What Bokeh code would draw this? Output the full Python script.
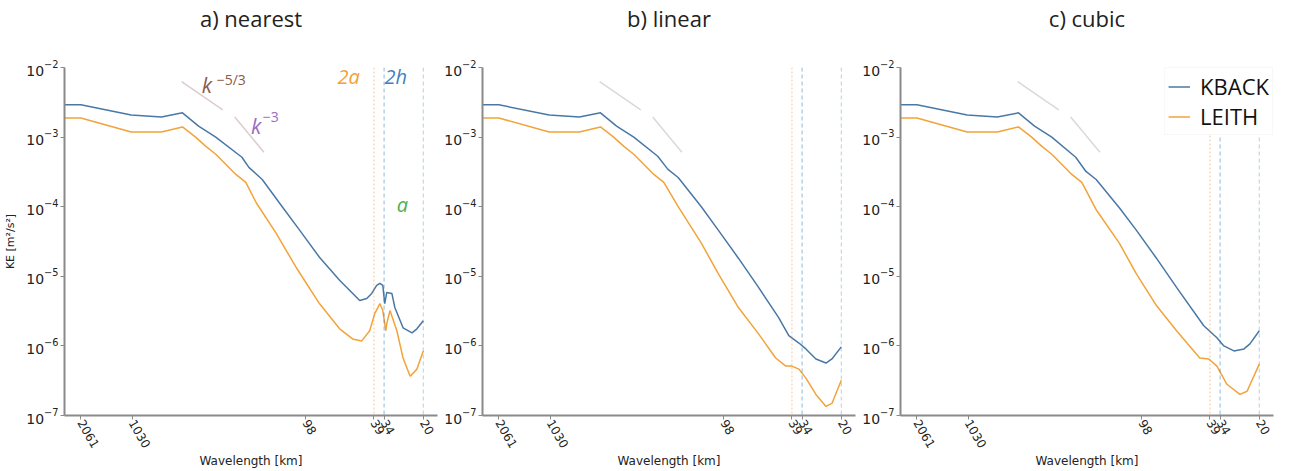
import numpy as np
from bokeh.plotting import figure
from bokeh.models import Range1d, FixedTicker, NumeralTickFormatter, Span, Label, Legend, LegendItem, Title
from bokeh.layouts import row
from bokeh.embed import file_html
from bokeh.resources import INLINE

# ---------------- data (wavelength in km, KE in m^2/s^2) ----------------
tick_wl = [2061, 1030, 98, 39, 34, 20]
y_ticks = [1e-7, 1e-6, 1e-5, 1e-4, 1e-3, 1e-2]
marker_wl = [39, 34, 20]          # 2a, 2h, a

# a) nearest
wl_a_kback = [2580, 2061, 1043, 693, 521, 419, 332, 233, 212, 177, 135, 107, 81.6, 62.1, 47.3, 43.0,
              40.2, 37.6, 36.0, 34.6, 33.7, 32.8, 30.6, 29.4, 26.3, 23.3, 21.8, 20.0]
ke_a_kback = [2.91e-3, 2.91e-3, 2.08e-3, 1.95e-3, 2.23e-3, 1.44e-3, 1.0e-3, 5.13e-4, 3.67e-4, 2.46e-4,
              1.0e-4, 4.64e-5, 1.88e-5, 8.75e-6, 4.49e-6, 4.80e-6, 5.67e-6, 7.41e-6, 7.92e-6, 7.41e-6,
              4.06e-6, 5.87e-6, 5.67e-6, 3.56e-6, 1.82e-6, 1.54e-6, 1.76e-6, 2.30e-6]
wl_a_leith = [2580, 2061, 1043, 693, 521, 436, 381, 332, 253, 221, 192, 147, 112, 81.6, 62.1, 52.1,
              46.0, 41.3, 38.6, 36.0, 34.6, 33.2, 32.8, 31.4, 28.6, 26.3, 23.9, 21.8, 20.0]
ke_a_leith = [1.88e-3, 1.88e-3, 1.18e-3, 1.18e-3, 1.40e-3, 1.0e-3, 7.41e-4, 5.67e-4, 2.91e-4, 2.23e-4,
              1.14e-4, 4.20e-5, 1.35e-5, 4.06e-6, 1.76e-6, 1.26e-6, 1.18e-6, 1.65e-6, 2.91e-6, 4.06e-6,
              3.22e-6, 1.65e-6, 2.08e-6, 3.22e-6, 1.65e-6, 6.70e-7, 3.67e-7, 4.64e-7, 8.47e-7]

# b) linear
wl_b_kback = [2580, 2061, 1043, 693, 521, 419, 332, 240, 209, 182, 133, 106, 80.5, 61.3, 46.7, 40.7,
              35.5, 32.3, 28.2, 24.6, 22.7, 20.0]
ke_b_kback = [2.91e-3, 2.91e-3, 2.08e-3, 1.95e-3, 2.23e-3, 1.44e-3, 1.0e-3, 5.31e-4, 3.44e-4, 2.63e-4,
              1.0e-4, 4.64e-5, 1.82e-5, 6.93e-6, 2.55e-6, 1.40e-6, 1.10e-6, 9.05e-7, 6.49e-7, 5.67e-7,
              6.49e-7, 9.68e-7]
wl_b_leith = [2580, 2061, 1043, 693, 521, 436, 381, 332, 253, 221, 182, 133, 106, 80.5, 61.3, 48.6,
              42.4, 39.1, 35.5, 32.3, 28.2, 24.6, 22.7, 20.0]
ke_b_leith = [1.88e-3, 1.88e-3, 1.18e-3, 1.18e-3, 1.40e-3, 1.0e-3, 7.41e-4, 5.67e-4, 2.91e-4, 2.23e-4,
              1.0e-4, 3.0e-5, 1.10e-5, 3.56e-6, 1.49e-6, 6.70e-7, 5.13e-7, 5.13e-7, 4.64e-7, 3.44e-7,
              2.01e-7, 1.35e-7, 1.49e-7, 3.21e-7]

# c) cubic
wl_c_kback = [2580, 2061, 1043, 693, 521, 419, 332, 240, 209, 182, 133, 106, 80.5, 61.3, 42.4, 35.5,
              32.3, 28.2, 24.6, 22.7, 20.0]
ke_c_kback = [2.91e-3, 2.91e-3, 2.08e-3, 1.95e-3, 2.23e-3, 1.44e-3, 1.0e-3, 5.13e-4, 3.21e-4, 2.46e-4,
              9.68e-5, 4.64e-5, 1.82e-5, 6.93e-6, 1.95e-6, 1.31e-6, 1.0e-6, 8.47e-7, 9.05e-7, 1.07e-6,
              1.65e-6]
wl_c_leith = [2580, 2061, 1043, 693, 521, 436, 381, 332, 253, 221, 182, 133, 106, 80.5, 61.3, 44.8,
              39.6, 35.5, 31.0, 26.0, 23.6, 20.0]
ke_c_leith = [1.88e-3, 1.88e-3, 1.18e-3, 1.18e-3, 1.40e-3, 1.0e-3, 7.41e-4, 5.67e-4, 2.91e-4, 2.23e-4,
              9.05e-5, 3.0e-5, 1.10e-5, 3.80e-6, 1.65e-6, 6.70e-7, 6.49e-7, 5.13e-7, 2.81e-7, 2.01e-7,
              2.23e-7, 5.48e-7]

# reference slopes (end points)
slope53_wl = [527, 302]
slope53_ke = [6.26e-3, 2.46e-3]
slope3_wl = [257, 173]
slope3_ke = [1.95e-3, 6.07e-4]

# ---------------- styling ----------------
C_KBACK = "#4a78a6"
C_LEITH = "#f2a33a"
AX = "#8a8a8a"
H = 471


def make_panel(title, wl_k, ke_k, wl_l, ke_l, width, mbl, mbr, ylabel=None, slope_color="#d9d9d9"):
    p = figure(width=width, height=H, x_axis_type="log", y_axis_type="log",
               x_range=Range1d(2573, 16.5), y_range=Range1d(1e-7, 1e-2),
               output_backend="svg", toolbar_location=None,
               min_border_left=mbl, min_border_right=mbr, min_border_top=10, min_border_bottom=49)
    # spacer between frame and title (added first -> nearest the frame)
    p.add_layout(Title(text=" ", text_font_size="22px", standoff=8), "above")
    p.title.text = title
    p.title.align = "center"
    p.title.vertical_align = "bottom"
    p.title.text_font = "Open Sans"
    p.title.text_font_size = "22px"
    p.title.text_font_style = "normal"
    p.title.text_color = "#222222"
    p.title.standoff = 0
    p.outline_line_color = None
    p.xgrid.visible = False
    p.ygrid.visible = False
    for ax in (p.xaxis[0], p.yaxis[0]):
        ax.axis_line_color = AX
        ax.axis_line_width = 2
        ax.major_tick_line_color = AX
        ax.major_tick_out = 4
        ax.major_tick_in = 0
        ax.minor_tick_line_color = None
        ax.major_label_text_font = "DejaVu Sans"
        ax.major_label_text_color = "#222222"
    p.xaxis.ticker = FixedTicker(ticks=tick_wl)
    p.xaxis.formatter = NumeralTickFormatter(format="0")
    p.xaxis.major_label_orientation = -np.pi / 3
    p.xaxis.major_label_text_font_size = "12px"
    p.xaxis.major_label_standoff = 1
    p.xaxis.axis_label = "Wavelength [km]"
    p.xaxis.axis_label_text_font = "DejaVu Sans"
    p.xaxis.axis_label_text_font_size = "12px"
    p.xaxis.axis_label_text_font_style = "normal"
    p.xaxis.axis_label_text_color = "#222222"
    p.xaxis.axis_label_standoff = 0
    p.yaxis.ticker = FixedTicker(ticks=y_ticks)
    p.yaxis.major_label_text_font_size = "14px"
    p.yaxis.major_label_standoff = 2
    if ylabel:
        p.yaxis.axis_label = ylabel
        p.yaxis.axis_label_text_font = "DejaVu Sans"
        p.yaxis.axis_label_text_font_size = "11px"
        p.yaxis.axis_label_text_font_style = "normal"
        p.yaxis.axis_label_text_color = "#222222"
        p.yaxis.axis_label_standoff = 6

    p.line(slope53_wl, slope53_ke, line_color=slope_color, line_width=1.5)
    p.line(slope3_wl, slope3_ke, line_color=slope_color, line_width=1.5)

    p.add_layout(Span(location=marker_wl[0], dimension="height", line_color="#ff7f0e",
                      line_alpha=0.45, line_dash="2 2", line_width=1))
    p.add_layout(Span(location=marker_wl[1], dimension="height", line_color="#1f77b4",
                      line_alpha=0.5, line_dash="4 3", line_width=1))
    p.add_layout(Span(location=marker_wl[2], dimension="height", line_color="#1f77b4",
                      line_alpha=0.35, line_dash="4 3", line_width=1))

    rk = p.line(wl_k, ke_k, line_color=C_KBACK, line_width=1.5)
    rl = p.line(wl_l, ke_l, line_color=C_LEITH, line_width=1.5)
    return p, rk, rl


pa, _, _ = make_panel("a) nearest", wl_a_kback, ke_a_kback, wl_a_leith, ke_a_leith,
                      441, 64, 4, ylabel="KE [m²/s²]", slope_color="#dccbd0")
pb, _, _ = make_panel("b) linear", wl_b_kback, ke_b_kback, wl_b_leith, ke_b_leith,
                      418, 41, 4)
pc, rk, rl = make_panel("c) cubic", wl_c_kback, ke_c_kback, wl_c_leith, ke_c_leith,
                        447, 41, 33)


def lab(p, x, y, text, color, size, style="italic"):
    p.add_layout(Label(x=x, y=y, text=text, text_color=color, text_font="Open Sans",
                       text_font_size=size, text_font_style=style,
                       text_baseline="middle", text_align="left"))


lab(pa, 402, 5.68e-3, "k", "#8c5a4b", "21px")
lab(pa, 328, 6.70e-3, "−5/3", "#8c5a4b", "14px", "normal")
lab(pa, 206, 1.44e-3, "k", "#9b6cc2", "21px")
lab(pa, 175.6, 1.95e-3, "−3", "#9b6cc2", "14px", "normal")
lab(pa, 63.9, 7.41e-3, "2a", "#f5a033", "20px")
lab(pa, 33.8, 7.41e-3, "2h", "#3f7fbf", "20px")
lab(pa, 28.6, 1.07e-4, "a", "#4caf50", "20px")

legend = Legend(items=[LegendItem(label="KBACK", renderers=[rk]),
                       LegendItem(label="LEITH", renderers=[rl])],
                location="top_right")
legend.margin = 0
legend.label_text_font = "Open Sans"
legend.label_text_font_size = "22px"
legend.label_text_color = "#111111"
legend.label_height = 23
legend.glyph_height = 23
legend.glyph_width = 22
legend.label_standoff = 10
legend.padding = 3
legend.spacing = 0
legend.border_line_color = "#f0f0f0"
legend.background_fill_alpha = 1
pc.add_layout(legend)

layout = row(pa, pb, pc)
open("out.html", "w").write(file_html(layout, INLINE))
